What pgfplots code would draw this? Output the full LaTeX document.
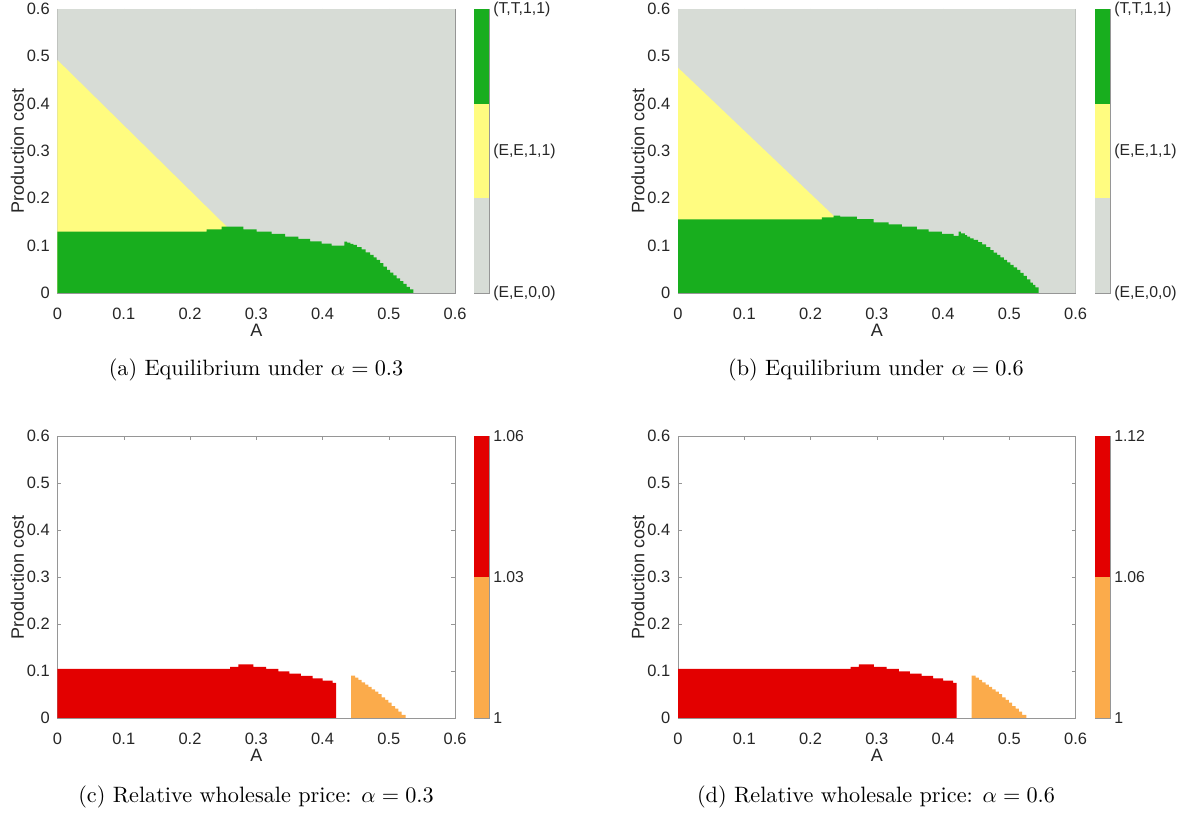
\documentclass[border=0pt]{standalone}
\usepackage{fontspec}
\usepackage{pgfplots}
\usepackage{pgfplotstable}
\pgfplotsset{compat=1.18}
\newfontfamily\arial{Liberation Sans}

\definecolor{cgray}{RGB}{215,220,214}
\definecolor{cyellow}{RGB}{255,252,128}
\definecolor{cgreen}{RGB}{24,174,30}
\definecolor{cred}{RGB}{227,0,0}
\definecolor{corange}{RGB}{251,171,75}
\definecolor{ctext}{RGB}{38,38,38}
\definecolor{cline}{RGB}{150,150,150}

% relative wholesale price regions, same in (c) and (d)
\pgfplotstableread{
x y
0      0.1043
0.2604 0.1090
0.2730 0.1142
0.2956 0.1090
0.3147 0.1043
0.3333 0.0993
0.3500 0.0943
0.3675 0.0894
0.3850 0.0844
0.4003 0.0794
0.4154 0.0745
0.4204 0.0745
}\redreg
\pgfplotstableread{
x y
0.4430 0.0901
0.4491 0.0858
0.4541 0.0809
0.4591 0.0759
0.4642 0.0710
0.4692 0.0660
0.4742 0.0610
0.4792 0.0560
0.4843 0.0510
0.4893 0.0440
0.4943 0.0383
0.4994 0.0326
0.5044 0.0255
0.5094 0.0199
0.5145 0.0135
0.5195 0.0064
0.5256 0.0064
}\orangereg

\pgfplotsset{
  panel/.style={
    scale only axis, anchor=south west,
    width=178.9pt,
    xmin=0, xmax=0.6, ymin=0, ymax=0.6,
    xtick={0,0.1,0.2,0.3,0.4,0.5,0.6},
    ytick={0,0.1,0.2,0.3,0.4,0.5,0.6},
    xticklabels={0,0.1,0.2,0.3,0.4,0.5,0.6},
    yticklabels={0,0.1,0.2,0.3,0.4,0.5,0.6},
    tick pos=both, xticklabel pos=bottom, yticklabel pos=left,
    tick align=inside, major tick length=1.8pt,
    axis line style={cline}, tick style={draw=cline},
    tick label style={font=\fontsize{7.4}{8}\arial, text=ctext},
    xticklabel style={yshift=-3.2pt},
    xlabel={A}, ylabel={Production cost},
    every axis x label/.style={at={(axis description cs:0.5,-0.132)}, anchor=center,
      font=\fontsize{8.1}{9}\arial, text=ctext},
    every axis y label/.style={at={(axis description cs:-0.1006,0.5)}, rotate=90,
      anchor=center, font=\fontsize{8.1}{9}\arial, text=ctext},
  },
  cbar/.style={
    scale only axis, anchor=south west,
    width=6.75pt, xmin=0, xmax=1, xtick=\empty,
    ytick pos=right, yticklabel pos=right,
    tick align=inside, major tick length=1.6pt,
    axis line style={cline}, tick style={draw=ctext},
    tick label style={font=\fontsize{7.1}{8}\arial, text=ctext},
    yticklabel style={xshift=-1.6pt},
  },
}

\begin{document}
\begin{tikzpicture}
\useasboundingbox (0,0) rectangle (530.55pt,365.85pt);

% (a) alpha = 0.3
\begin{axis}[panel, at={(25.875pt,234pt)}, height=127.8pt]
  \addplot[fill=cgray, draw=none] coordinates {(0,0.6) (0.6,0.6)} \closedcycle;
  \addplot[fill=cyellow, draw=none] coordinates {(0,0.492) (0.2554,0.1402) (0.2554,0)} \closedcycle;
  \addplot[fill=cgreen, draw=none, const plot] coordinates {
    (0,0.1296) (0.2252,0.1345) (0.2478,0.1402) (0.2805,0.1345) (0.3006,0.1296)
    (0.3233,0.1247) (0.3434,0.1190) (0.3635,0.1141) (0.3811,0.1092) (0.3988,0.1042)
    (0.4139,0.0999) (0.4330,0.1084) (0.4370,0.1063) (0.4420,0.1040) (0.4465,0.1014)
    (0.4520,0.0970) (0.4591,0.0923) (0.4650,0.0860) (0.4717,0.0803) (0.4770,0.0750)
    (0.4818,0.0697) (0.4870,0.0630) (0.4918,0.0556) (0.4970,0.0490) (0.5019,0.0430)
    (0.5070,0.0370) (0.5120,0.0310) (0.5170,0.0250) (0.5220,0.0190) (0.5270,0.0130)
    (0.5320,0.0078) (0.5370,0.0078)
  } \closedcycle;
\end{axis}
\begin{axis}[cbar, at={(213.3pt,234pt)}, height=127.8pt, ymin=0, ymax=3,
  ytick={0,1.5,3}, yticklabels={{(E,E,0,0)},{(E,E,1,1)},{(T,T,1,1)}}]
  \addplot[fill=cgreen, draw=none] coordinates {(0,3) (1,3)} \closedcycle;
  \addplot[fill=cyellow, draw=none] coordinates {(0,2) (1,2)} \closedcycle;
  \addplot[fill=cgray, draw=none] coordinates {(0,1) (1,1)} \closedcycle;
\end{axis}

% (b) alpha = 0.6
\begin{axis}[panel, at={(305.1pt,234pt)}, height=127.8pt]
  \addplot[fill=cgray, draw=none] coordinates {(0,0.6) (0.6,0.6)} \closedcycle;
  \addplot[fill=cyellow, draw=none] coordinates {(0,0.476) (0.2347,0.1634) (0.2347,0)} \closedcycle;
  \addplot[fill=cgreen, draw=none, const plot] coordinates {
    (0,0.1557) (0.2171,0.1600) (0.2347,0.1634) (0.2448,0.1613) (0.2700,0.1563)
    (0.2951,0.1493) (0.3178,0.1451) (0.3380,0.1402) (0.3606,0.1345) (0.3782,0.1296)
    (0.3983,0.1247) (0.4159,0.1204) (0.4235,0.1296) (0.4270,0.1261) (0.4330,0.1220)
    (0.4363,0.1190) (0.4410,0.1155) (0.4463,0.1120) (0.4530,0.1075) (0.4590,0.1028)
    (0.4650,0.0970) (0.4715,0.0908) (0.4765,0.0855) (0.4816,0.0803) (0.4867,0.0750)
    (0.4917,0.0697) (0.4967,0.0645) (0.5017,0.0592) (0.5067,0.0540) (0.5117,0.0486)
    (0.5167,0.0423) (0.5217,0.0359) (0.5267,0.0290) (0.5317,0.0218) (0.5355,0.0170)
    (0.5393,0.0120) (0.5443,0.0120)
  } \closedcycle;
\end{axis}
\begin{axis}[cbar, at={(492.75pt,234pt)}, height=127.8pt, ymin=0, ymax=3,
  ytick={0,1.5,3}, yticklabels={{(E,E,0,0)},{(E,E,1,1)},{(T,T,1,1)}}]
  \addplot[fill=cgreen, draw=none] coordinates {(0,3) (1,3)} \closedcycle;
  \addplot[fill=cyellow, draw=none] coordinates {(0,2) (1,2)} \closedcycle;
  \addplot[fill=cgray, draw=none] coordinates {(0,1) (1,1)} \closedcycle;
\end{axis}

% (c) relative wholesale price, alpha = 0.3
\begin{axis}[panel, at={(25.875pt,42.75pt)}, height=126.9pt]
  \addplot[fill=cred, draw=none, const plot] table {\redreg} \closedcycle;
  \addplot[fill=corange, draw=none, const plot] table {\orangereg} \closedcycle;
\end{axis}
\begin{axis}[cbar, at={(213.3pt,42.75pt)}, height=126.9pt, ymin=1, ymax=1.06,
  ytick={1,1.03,1.06}, yticklabels={1,1.03,1.06}]
  \addplot[fill=cred, draw=none] coordinates {(0,1.06) (1,1.06)} \closedcycle;
  \addplot[fill=corange, draw=none] coordinates {(0,1.03) (1,1.03)} \closedcycle;
\end{axis}

% (d) relative wholesale price, alpha = 0.6
\begin{axis}[panel, at={(305.1pt,42.75pt)}, height=126.9pt]
  \addplot[fill=cred, draw=none, const plot] table {\redreg} \closedcycle;
  \addplot[fill=corange, draw=none, const plot] table {\orangereg} \closedcycle;
\end{axis}
\begin{axis}[cbar, at={(492.75pt,42.75pt)}, height=126.9pt, ymin=1, ymax=1.12,
  ytick={1,1.06,1.12}, yticklabels={1,1.06,1.12}]
  \addplot[fill=cred, draw=none] coordinates {(0,1.12) (1,1.12)} \closedcycle;
  \addplot[fill=corange, draw=none] coordinates {(0,1.06) (1,1.06)} \closedcycle;
\end{axis}

% subcaptions
\node[anchor=center] at (115.2pt,199.35pt) {(a) Equilibrium under $\alpha=0.3$};
\node[anchor=center] at (394.2pt,199.35pt) {(b) Equilibrium under $\alpha=0.6$};
\node[anchor=center] at (115.2pt,7.2pt) {(c) Relative wholesale price: $\alpha=0.3$};
\node[anchor=center] at (394.2pt,7.2pt) {(d) Relative wholesale price: $\alpha=0.6$};
\end{tikzpicture}
\end{document}
